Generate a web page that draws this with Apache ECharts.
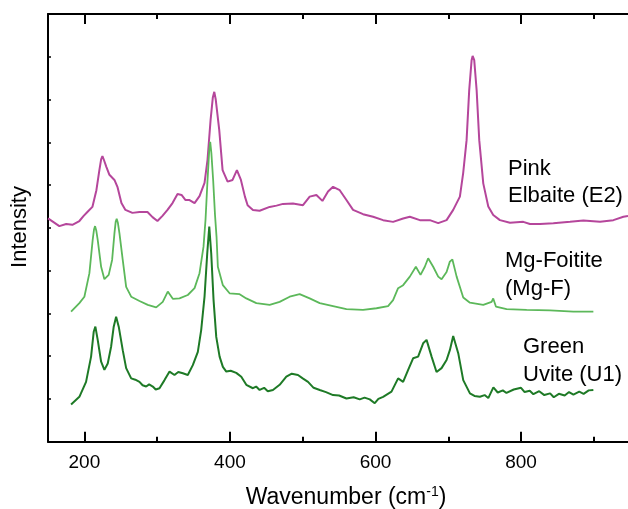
<!DOCTYPE html>
<html>
<head>
<meta charset="utf-8">
<script src="https://cdn.jsdelivr.net/npm/echarts@6/dist/echarts.min.js"></script>
<style>html,body{margin:0;padding:0;background:#fff}#c{width:628px;height:509px}</style>
</head>
<body>
<div id="c"></div>
<script>
// Wavenumber (cm^-1), intensity (arbitrary, stacked offsets)
var pinkElbaite = [
[150,52.2],[165.6,50.4],[175,50.9],[183.5,50.7],[193.1,51.6],[199,52.8],[204.1,53.7],[211,54.9],[216.5,58.8],[220.6,63.5],[223,66.0],[224.8,66.8],[227,65.8],[230.3,64.2],[234.4,62.4],[241.3,61.2],[245.4,59.6],[250.9,55.8],[256.4,54.2],[266,53.5],[275.7,53.7],[286.7,53.7],[293.6,52.5],[300.4,51.6],[307.3,52.8],[314.2,54.2],[321.1,55.8],[328,57.9],[333.5,57.7],[339,56.5],[344.5,56.5],[351.4,55.8],[358.2,57.4],[365.1,60.5],[369.2,65.9],[373.4,75.2],[376.5,80.5],[378.5,81.8],[380.5,80.0],[385.3,72.9],[389.9,63.5],[396.8,60.8],[403.6,61.2],[409.6,63.5],[415.1,61.2],[420.6,57.3],[424.3,55.3],[431.6,54.2],[440.8,54.0],[454.6,54.9],[464,55.2],[472.9,55.6],[486.6,55.7],[500.4,55.3],[509.6,57.3],[518.8,57.7],[527.1,56.3],[534.8,58.5],[541.7,59.6],[550.9,58.8],[560.1,56.5],[569.2,54.2],[582.9,53.2],[596.7,52.6],[610.5,51.8],[624.2,51.4],[638,52.2],[647.2,52.6],[661,51.8],[674.7,51.8],[686.2,51.1],[697.7,51.8],[706.8,54.2],[716,57.3],[720.5,62.8],[725.2,70.5],[728.8,82.2],[732.1,89.2],[733.5,90.2],[735.7,89.2],[739,82.2],[742.6,70.5],[748.1,60.4],[755,55.0],[761.8,53.0],[771,51.8],[784.8,51.2],[803.1,51.4],[812.3,50.9],[826.1,50.9],[844.4,51.1],[867.4,51.4],[885.7,51.7],[908.6,51.4],[926.9,51.8],[940.7,52.6],[947,52.8]
];
var mgFoitite = [
[181.7,30.4],[193.1,32.4],[200,33.9],[206.9,39.4],[211.4,47.2],[213.2,49.6],[214.7,50.4],[216.3,49.4],[218.3,47.2],[223,40.9],[227.5,38.0],[233.4,39.0],[238.1,42.5],[241.3,48.7],[243,51.4],[244.4,52.1],[246,51.2],[248.2,48.7],[252.7,42.5],[257.4,36.2],[264.3,33.9],[275.7,32.9],[287.1,32.0],[298.7,31.4],[307.7,32.7],[314.6,35.1],[321.5,33.4],[330.7,33.5],[342.1,34.3],[351.4,35.9],[358.2,39.4],[363.7,45.6],[366.5,52.0],[369,60.5],[371.5,68.0],[372.9,70.1],[374.5,67.5],[377,61.0],[379.5,53.0],[381.6,47.9],[383.4,40.9],[390.3,36.6],[399.5,34.7],[413.3,34.5],[422.5,33.5],[436.3,32.4],[454.6,32.0],[468.3,32.7],[482.1,33.9],[495.8,34.5],[509.6,33.5],[523.4,32.4],[541.7,31.7],[560.1,31.0],[582.9,30.8],[601.4,31.2],[617.3,31.7],[624.2,33.1],[631.1,35.9],[638,36.6],[647.2,38.6],[655.5,40.9],[661.9,39.0],[667.8,40.9],[672.4,42.9],[679.3,40.9],[686.2,38.6],[690.8,38.0],[697.7,39.7],[702.2,42.1],[705.7,42.6],[711.5,38.6],[720.6,33.7],[729.8,32.5],[748.1,32.0],[759.6,32.7],[761.8,33.5],[765.5,31.6],[780.2,31.0],[807.7,30.8],[839.8,30.7],[871.9,30.4],[899.4,30.4]
];
var greenUvite = [
[181.7,8.7],[193.1,10.5],[202.3,14.0],[209.2,19.9],[212.8,25.7],[215.1,26.9],[218.3,23.8],[223,18.7],[227.5,16.8],[232.1,18.3],[236.7,22.2],[240.3,26.9],[243.6,29.2],[247.2,26.9],[252.7,21.4],[257.4,17.2],[264.3,14.8],[270,14.5],[275.7,14.0],[280,13.2],[284.9,12.9],[289,13.4],[294,12.9],[298,12.2],[303.2,12.5],[310.1,14.4],[317,16.4],[323.8,15.6],[329,16.3],[335.3,16.0],[342.1,15.6],[349,17.9],[355.9,21.0],[360.5,26.1],[365.1,33.9],[368.8,44.0],[371.6,50.3],[374.3,44.0],[377.5,33.1],[381.2,24.5],[385.8,19.9],[390.3,17.5],[395,16.4],[401,16.6],[408.7,16.1],[415.6,15.2],[422.5,13.3],[431.6,12.5],[436,12.9],[440.8,12.1],[447,12.6],[452,11.8],[459.1,12.1],[468.3,13.3],[477.5,15.2],[485,15.9],[493.5,15.6],[500,14.8],[507.3,14.0],[515,12.6],[523.4,12.1],[532,11.6],[541.7,10.9],[550,10.8],[560.1,10.1],[570,10.4],[578.4,9.9],[585,10.3],[592.2,9.9],[599,9.0],[604,10.0],[610.5,10.5],[622,11.7],[631.1,14.8],[638,14.0],[644.9,16.8],[651.7,19.5],[658.6,19.9],[665.5,23.0],[670.2,23.8],[677.1,19.9],[683.9,16.3],[690.8,17.2],[697.7,19.1],[702.2,21.4],[706.8,24.7],[713.7,20.7],[720.6,14.4],[729.8,11.3],[736,10.7],[743.5,10.5],[750,10.9],[755,10.2],[762,12.7],[768,11.5],[775,12.0],[780,11.4],[790,12.2],[800,12.6],[805,11.6],[812,11.9],[817,11.1],[825,11.8],[832,10.9],[840,11.3],[845,10.4],[852,11.2],[860,10.8],[866,11.6],[872,11.0],[880,11.7],[886,11.2],[893,12.0],[899.4,12.1]
];
var majorTicks = [200, 400, 600, 800];
var minorTicks = [300, 500, 700, 900];
var seriesNames = ['Pink\nElbaite (E2)', 'Mg-Foitite\n(Mg-F)', 'Green\nUvite (U1)'];

var FONT = 'Liberation Sans, Arial, sans-serif';
var chart = echarts.init(document.getElementById('c'), null, {renderer: 'canvas'});
function xAx(pos, ticks, len, showLine, showLabel) {
  return {
    type: 'value', min: 150, max: 947, position: pos,
    axisLine: {show: showLine, onZero: false, lineStyle: {color: '#000', width: 2}},
    axisTick: {show: true, inside: true, length: len, customValues: ticks, lineStyle: {color: '#000', width: 2}},
    axisLabel: {show: showLabel, customValues: ticks, color: '#000', fontSize: 19, fontFamily: FONT, margin: 12},
    splitLine: {show: false}
  };
}
var option = {
  animation: false,
  backgroundColor: '#fff',
  grid: {left: 48, right: 0, top: 14, bottom: 67.3, containLabel: false},
  xAxis: [
    xAx('bottom', majorTicks, 10, true, true),
    xAx('bottom', minorTicks, 5, false, false),
    xAx('top', majorTicks, 10, true, false),
    xAx('top', minorTicks, 5, false, false)
  ],
  yAxis: {
    type: 'value', min: 0, max: 100, interval: 10,
    axisLine: {show: true, onZero: false, lineStyle: {color: '#000', width: 2}},
    axisTick: {show: true, inside: true, length: 3, lineStyle: {color: '#000', width: 1.5}},
    axisLabel: {show: false},
    splitLine: {show: false}
  },
  series: [
    {type: 'line', name: seriesNames[0], data: pinkElbaite, showSymbol: false, smooth: false, lineStyle: {color: '#b5469b', width: 2}},
    {type: 'line', name: seriesNames[1], data: mgFoitite, showSymbol: false, smooth: false, lineStyle: {color: '#5cb85a', width: 1.8}},
    {type: 'line', name: seriesNames[2], data: greenUvite, showSymbol: false, smooth: false, lineStyle: {color: '#1e7a26', width: 2}}
  ],
  graphic: [
    {type: 'text', left: 508, top: 155, style: {text: seriesNames[0], font: '22px ' + FONT, lineHeight: 27, fill: '#000'}},
    {type: 'text', left: 505, top: 247, style: {text: seriesNames[1], font: '22px ' + FONT, lineHeight: 28, fill: '#000'}},
    {type: 'text', left: 523, top: 333, style: {text: seriesNames[2], font: '22px ' + FONT, lineHeight: 28, fill: '#000'}},
    {type: 'text', x: 20, y: 227, rotation: Math.PI / 2,
      style: {text: 'Intensity', font: '22px ' + FONT, fill: '#000', align: 'center', verticalAlign: 'middle'}},
    {type: 'text', x: 346, y: 498,
      style: {text: '{a|Wavenumber (cm}{s|-1}{a|)}', align: 'center', verticalAlign: 'middle', fill: '#000',
        rich: {a: {fontSize: 23, fontFamily: FONT, lineHeight: 26}, s: {fontSize: 14, fontFamily: FONT, lineHeight: 14, verticalAlign: 'top'}}}}
  ]
};
chart.setOption(option);
</script>
</body>
</html>
